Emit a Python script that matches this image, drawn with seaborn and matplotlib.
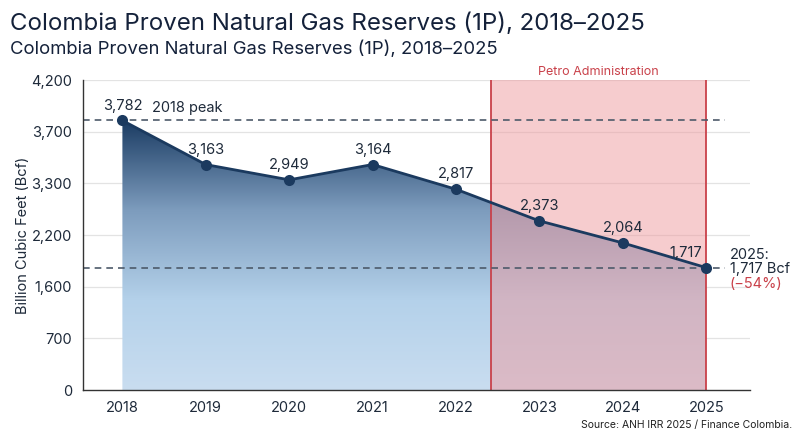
import numpy as np
import pandas as pd
import matplotlib
matplotlib.use("Agg")
import matplotlib.pyplot as plt
from matplotlib.colors import LinearSegmentedColormap
import seaborn as sns

years = [2018, 2019, 2020, 2021, 2022, 2023, 2024, 2025]
reserves = [3782, 3163, 2949, 3164, 2817, 2373, 2064, 1717]
ytick_labels = ["0", "700", "1,600", "2,200", "3,300", "3,700", "4,200"]
petro_start = 2022.42
petro_end = 2025
change_label = "(\u221254%)"

df = pd.DataFrame({"year": years, "bcf": reserves})

sns.set_theme(style="white")
plt.rcParams["font.family"] = ["Inter", "DejaVu Sans"]

navy = "#1b3a5f"
red = "#c9414a"
dark = "#1e2a3a"

fig = plt.figure(figsize=(8, 4.36), dpi=100)
ax = fig.add_axes([0.104, 0.1055, 0.834, 0.711])

ymax = 4350
ax.set_xlim(2017.53, 2025.53)
ax.set_ylim(0, ymax)

# grid
yticks = np.linspace(0, ymax, len(ytick_labels))
for t in yticks[1:]:
    ax.axhline(t, color="#e3e3e3", lw=0.9, zorder=0)

# gradient area under the line
cmap = LinearSegmentedColormap.from_list(
    "area", ["#c9ddf0", "#b4d1ea", "#7d9cbd", "#1b3c63"], N=256)
grad = np.linspace(0, 1, 256).reshape(-1, 1)
top = max(reserves)
img = ax.imshow(grad, extent=[years[0], years[-1], 0, top], origin="lower",
                cmap=cmap, aspect="auto", zorder=1)
poly = ax.fill_between(df["year"], df["bcf"], 0, color="none", lw=0)
clip = poly.get_paths()[0]
img.set_clip_path(clip, transform=ax.transData)

# Petro administration shading
ax.axvspan(petro_start, petro_end, color="#ee9a9e", alpha=0.5, lw=0, zorder=2)
for xv in (petro_start, petro_end):
    ax.axvline(xv, color=red, lw=1.3, zorder=2.2)
ax.text((petro_start + petro_end) / 2, 1.008, "Petro Administration",
        transform=ax.get_xaxis_transform(), ha="center", va="bottom",
        color=red, fontsize=9)

# reference lines
for ref in (reserves[0], reserves[-1]):
    ax.plot([2017.53, 2025.22], [ref, ref], ls=(0, (4, 3)), color="#4d5a6a",
            lw=1.2, zorder=2.5)
ax.text(2018.35, reserves[0] + 70, "2018 peak", fontsize=10.5, color=dark,
        ha="left", va="bottom", zorder=4)

sns.lineplot(data=df, x="year", y="bcf", color=navy, lw=2, marker="o",
             markersize=8, markeredgewidth=0, ax=ax, zorder=3)

for i, (x, y) in enumerate(zip(years, reserves)):
    if i == len(years) - 1:
        ax.text(x - 0.05, y + 110, f"{y:,}", ha="right", va="bottom",
                fontsize=10.5, color=dark)
    else:
        ax.text(x, y + 110, f"{y:,}", ha="center", va="bottom",
                fontsize=10.5, color=dark)

# end-of-series annotation
end_x, end_y = years[-1], reserves[-1]
ax.annotate(f"{end_x}:", (end_x, end_y), xytext=(17, 9), textcoords="offset points",
            ha="left", va="center", fontsize=10.5, color=dark)
ax.annotate(f"{end_y:,} Bcf", (end_x, end_y), xytext=(17, -1), textcoords="offset points",
            ha="left", va="center", fontsize=10.5, color=dark)
ax.annotate(change_label, (end_x, end_y), xytext=(17, -12), textcoords="offset points",
            ha="left", va="center", fontsize=10.5, color=red)

ax.set_xticks(years)
ax.set_xticklabels([str(y) for y in years], fontsize=10.5, color=dark)
ax.set_yticks(yticks)
ax.set_yticklabels(ytick_labels, fontsize=10.5, color=dark)
ax.tick_params(axis="both", length=0, pad=8)
ax.set_xlabel("")
ax.set_ylabel("Billion Cubic Feet (Bcf)", fontsize=10.5, color=dark,
              labelpad=1)

sns.despine(ax=ax)
for s in ("left", "bottom"):
    ax.spines[s].set_color("#333333")
    ax.spines[s].set_linewidth(1)

fig.text(0.012, 0.945, "Colombia Proven Natural Gas Reserves (1P), 2018\u20132025",
         fontsize=17.3, color="#14213a", va="center")
fig.text(0.012, 0.888, "Colombia Proven Natural Gas Reserves (1P), 2018\u20132025",
         fontsize=13.3, color="#14213a", va="center")
fig.text(0.99, 0.025, "Source: ANH IRR 2025 / Finance Colombia.", ha="right",
         va="center", fontsize=7.5, color="#222222")

fig.savefig("out.png", dpi=100)
